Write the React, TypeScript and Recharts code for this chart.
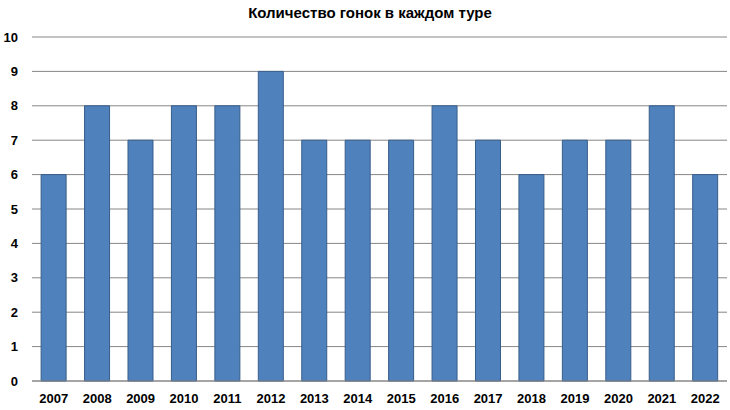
import React from 'react';
import { BarChart, Bar, XAxis, YAxis, CartesianGrid } from 'recharts';

const years = ['2007', '2008', '2009', '2010', '2011', '2012', '2013', '2014', '2015', '2016', '2017', '2018', '2019', '2020', '2021', '2022'];
const races = [6, 8, 7, 8, 8, 9, 7, 7, 7, 8, 7, 6, 7, 7, 8, 6];
const yTicks = [0, 1, 2, 3, 4, 5, 6, 7, 8, 9, 10];

const data = years.map((year, i) => ({ year, races: races[i] }));

const font = '"Liberation Sans", Arial, sans-serif';

export default function App() {
    return (
        <div style={{ position: 'absolute', left: 0, top: 0, width: 730, height: 410, background: '#fff', fontFamily: font }}>
            <div
                style={{
                    position: 'absolute',
                    top: 4,
                    left: 0,
                    width: 740,
                    textAlign: 'center',
                    fontWeight: 'bold',
                    fontSize: 15,
                    color: '#000',
                }}
            >
                Количество гонок в каждом туре
            </div>
            <BarChart
                width={730}
                height={410}
                data={data}
                margin={{ top: 37, right: 3, left: 0, bottom: 0 }}
                barCategoryGap="21%"
            >
                <CartesianGrid vertical={false} stroke="#868686" strokeWidth={1} />
                <XAxis
                    dataKey="year"
                    height={29}
                    axisLine={{ stroke: '#868686' }}
                    tickLine={false}
                    interval={0}
                    tick={{ fill: '#000', fontSize: 13, fontWeight: 'bold', fontFamily: font, dy: 5 }}
                />
                <YAxis
                    width={32}
                    domain={[0, 10]}
                    ticks={yTicks}
                    axisLine={false}
                    tickLine={false}
                    tick={{ fill: '#000', fontSize: 13, fontWeight: 'bold', fontFamily: font, dx: -6 }}
                />
                <Bar dataKey="races" fill="#4f81bd" stroke="#385d8a" strokeWidth={1} isAnimationActive={false} />
            </BarChart>
        </div>
    );
}
